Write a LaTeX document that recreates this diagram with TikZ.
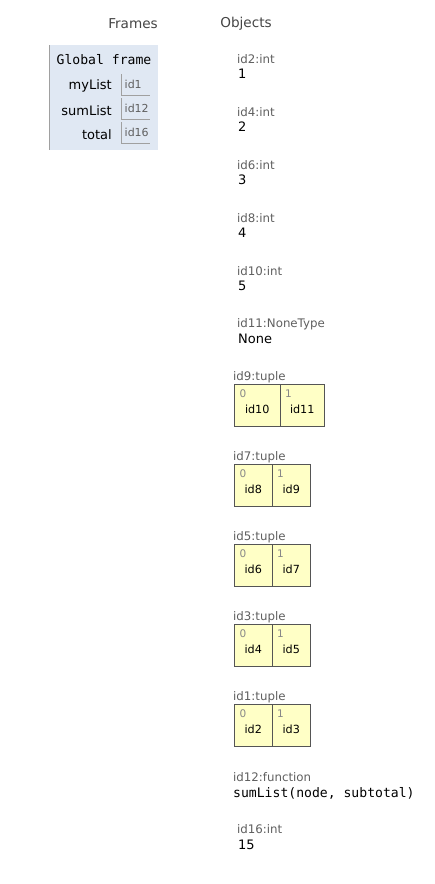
\documentclass[tikz,border=0pt]{standalone}
\usepackage{fontspec}
\setmainfont{DejaVu Sans}
\setmonofont{DejaVu Sans Mono}
\definecolor{framebg}{RGB}{224,232,243}
\definecolor{frameln}{RGB}{160,160,160}
\definecolor{cellbg}{RGB}{255,255,198}
\definecolor{cellln}{RGB}{85,85,85}
\definecolor{lblgray}{RGB}{95,95,95}
\definecolor{idxgray}{RGB}{136,136,136}
\definecolor{hdr}{RGB}{68,68,68}
\tikzset{
  hdrtxt/.style={font=\fontsize{13.6}{15}\selectfont, text=hdr, inner sep=0pt, yshift=-1.5pt},
  frametitle/.style={font=\ttfamily\fontsize{13.1}{15}\selectfont, inner sep=0pt, yshift=-1pt},
  varname/.style={font=\fontsize{13}{15}\selectfont, anchor=east, inner sep=0pt, yshift=-1.5pt},
  varval/.style={font=\fontsize{11}{13}\selectfont, text=lblgray, anchor=west, inner sep=0pt},
  typelbl/.style={font=\fontsize{11.8}{13}\selectfont, text=lblgray, anchor=west, inner sep=0pt, yshift=-1pt},
  primval/.style={font=\fontsize{13}{15}\selectfont, anchor=west, inner sep=0pt},
  monoval/.style={font=\ttfamily\fontsize{13.1}{15}\selectfont, anchor=west, inner sep=0pt},
  cellidx/.style={font=\fontsize{10.5}{12}\selectfont, text=idxgray, anchor=west, inner sep=0pt},
  cellval/.style={font=\fontsize{11.2}{13}\selectfont, inner sep=0pt},
  cellbox/.style={draw=cellln, fill=cellbg, line width=1pt},
}
\newcommand{\tuplecell}[6]{% name, left, right, top, index, value
  \draw[cellbox] (#2,#4) rectangle (#3,#4+42);
  \node[cellidx] (#1i) at (#2+5,#4+10) {#5};
  \node[cellval] (#1v) at ({(#2+#3)/2},#4+25) {#6};
}
\begin{document}
\begin{tikzpicture}[x=1pt,y=-1pt]
\useasboundingbox (0,0) rectangle (434,884);
% headers
\node[hdrtxt] (hframes) at (133,22) {Frames};
\node[hdrtxt] (hobjects) at (246,22) {Objects};
% global frame
\fill[framebg] (49,45) rectangle (158,150);
\draw[frameln, line width=1pt] (49.5,45) -- (49.5,150);
\node[frametitle] (gf) at (104,59) {Global frame};
\node[varname] (vmy) at (112,84) {myList};
\node[varname] (vsum) at (112,109) {sumList};
\node[varname] (vtot) at (112,133) {total};
\draw[frameln] (121.5,74) -- (121.5,95.5) -- (150,95.5);
\draw[frameln] (121.5,98) -- (121.5,119.5) -- (150,119.5);
\draw[frameln] (121.5,122) -- (121.5,143.5) -- (150,143.5);
\node[varval] (vmyv) at (124.5,84) {id1};
\node[varval] (vsumv) at (124.5,108) {id12};
\node[varval] (vtotv) at (124.5,132) {id16};
% ints
\node[typelbl] (l2) at (237,58) {id2:int};
\node[primval] (v2) at (238,74) {1};
\node[typelbl] (l4) at (237,111) {id4:int};
\node[primval] (v4) at (238,127) {2};
\node[typelbl] (l6) at (237,164) {id6:int};
\node[primval] (v6) at (238,180) {3};
\node[typelbl] (l8) at (237,217) {id8:int};
\node[primval] (v8) at (238,233) {4};
\node[typelbl] (l10) at (237,270) {id10:int};
\node[primval] (v10) at (238,286) {5};
\node[typelbl] (l11) at (237,323) {id11:NoneType};
\node[primval] (v11) at (238,339) {None};
% tuples
\node[typelbl] (l9) at (233,376) {id9:tuple};
\tuplecell{t9a}{234.5}{280}{384}{0}{id10}
\tuplecell{t9b}{280}{324.5}{384}{1}{id11}
\node[typelbl] (l7) at (233,456) {id7:tuple};
\tuplecell{t7a}{234.5}{272}{464}{0}{id8}
\tuplecell{t7b}{272}{310.5}{464}{1}{id9}
\node[typelbl] (l5) at (233,536) {id5:tuple};
\tuplecell{t5a}{234.5}{272}{544}{0}{id6}
\tuplecell{t5b}{272}{310.5}{544}{1}{id7}
\node[typelbl] (l3) at (233,616) {id3:tuple};
\tuplecell{t3a}{234.5}{272}{624}{0}{id4}
\tuplecell{t3b}{272}{310.5}{624}{1}{id5}
\node[typelbl] (l1) at (233,696) {id1:tuple};
\tuplecell{t1a}{234.5}{272}{704}{0}{id2}
\tuplecell{t1b}{272}{310.5}{704}{1}{id3}
% function
\node[typelbl] (l12) at (233,776) {id12:function};
\node[monoval] (v12) at (233,793) {sumList(node, subtotal)};
% total
\node[typelbl] (l16) at (237,828) {id16:int};
\node[primval] (v16) at (238,845) {15};
\end{tikzpicture}
\end{document}
